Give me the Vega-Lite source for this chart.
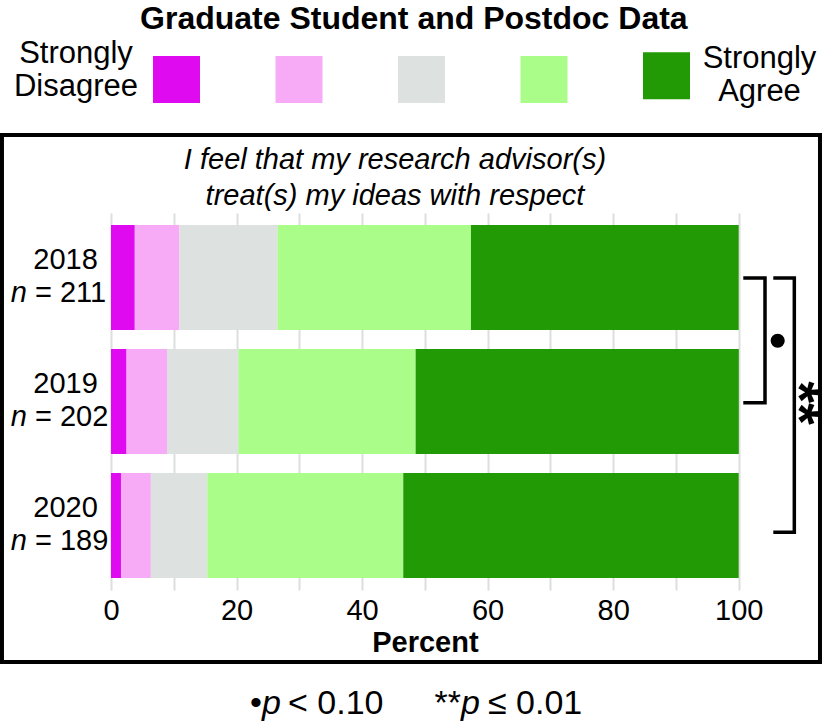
{
  "$schema": "https://vega.github.io/schema/vega-lite/v6.json",
  "width": 627.7,
  "height": 377,
  "autosize": {"type": "none"},
  "padding": {"left": 111, "top": 213, "right": 83.3, "bottom": 132},
  "background": "white",
  "config": {"view": {"stroke": null}, "font": "Liberation Sans"},
  "title": {
    "text": "Graduate Student and Postdoc Data",
    "fontSize": 32,
    "fontWeight": "bold",
    "font": "Liberation Sans",
    "color": "black",
    "anchor": "middle",
    "dx": -11,
    "offset": 16
  },
  "datasets": {
    "bars": [
      {"year": "2018", "response": "Strongly Disagree", "k": 1, "pct": 3.79},
      {"year": "2018", "response": "Disagree", "k": 2, "pct": 7.11},
      {"year": "2018", "response": "Neutral", "k": 3, "pct": 15.64},
      {"year": "2018", "response": "Agree", "k": 4, "pct": 30.81},
      {"year": "2018", "response": "Strongly Agree", "k": 5, "pct": 42.65},
      {"year": "2019", "response": "Strongly Disagree", "k": 1, "pct": 2.48},
      {"year": "2019", "response": "Disagree", "k": 2, "pct": 6.44},
      {"year": "2019", "response": "Neutral", "k": 3, "pct": 11.39},
      {"year": "2019", "response": "Agree", "k": 4, "pct": 28.22},
      {"year": "2019", "response": "Strongly Agree", "k": 5, "pct": 51.49},
      {"year": "2020", "response": "Strongly Disagree", "k": 1, "pct": 1.59},
      {"year": "2020", "response": "Disagree", "k": 2, "pct": 4.76},
      {"year": "2020", "response": "Neutral", "k": 3, "pct": 8.99},
      {"year": "2020", "response": "Agree", "k": 4, "pct": 31.22},
      {"year": "2020", "response": "Strongly Agree", "k": 5, "pct": 53.44}
    ],
    "years": [
      {"year": "2018", "nrest": "= 211"},
      {"year": "2019", "nrest": "= 202"},
      {"year": "2020", "nrest": "= 189"}
    ],
    "box": [{"x": -17.37, "x2": 112.95, "y": -0.149, "y2": 4.101}],
    "brackets": [
      {"b": "a", "k": 1, "x": 100.73, "y": 1.004},
      {"b": "a", "k": 2, "x": 104.19, "y": 1.004},
      {"b": "a", "k": 3, "x": 104.19, "y": 2.01},
      {"b": "a", "k": 4, "x": 100.73, "y": 2.01},
      {"b": "b", "k": 1, "x": 105.51, "y": 1.004},
      {"b": "b", "k": 2, "x": 108.86, "y": 1.004},
      {"b": "b", "k": 3, "x": 108.86, "y": 3.055},
      {"b": "b", "k": 4, "x": 105.51, "y": 3.055}
    ],
    "dot": [{"x": 106.21, "y": 1.51}],
    "stars": [{"x": 109.5, "y": 2.012, "t": "**"}],
    "subtitle": [
      {"x": 45.24, "y": 0.125, "t": "I feel that my research advisor(s)"},
      {"x": 45.24, "y": 0.415, "t": "treat(s) my ideas with respect"}
    ],
    "footRight": [
      {"x": 24.06, "y": 4.52, "t": "•"},
      {"x": 55.76, "y": 4.52, "t": "**"}
    ],
    "footItalic": [
      {"x": 24.06, "y": 4.52, "t": "p"},
      {"x": 55.76, "y": 4.52, "t": "p"}
    ],
    "footPlain": [
      {"x": 28.2, "y": 4.52, "t": "< 0.10"},
      {"x": 60.06, "y": 4.52, "t": "≤ 0.01"}
    ]
  },
  "layer": [
    {
      "layer": [
        {
          "data": {"name": "bars"},
          "mark": {"type": "bar"},
          "encoding": {
            "y": {"field": "year", "type": "nominal", "scale": {"paddingInner": 0.1532, "paddingOuter": 0.0968}, "axis": null},
            "x": {
              "field": "pct",
              "type": "quantitative",
              "stack": "zero",
              "scale": {"domain": [0, 100], "nice": false},
              "axis": {
                "title": "Percent",
                "values": [0, 10, 20, 30, 40, 50, 60, 70, 80, 90, 100],
                "labelExpr": "datum.value % 20 === 0 ? datum.label : ''",
                "grid": true,
                "gridColor": "#dcdfde",
                "gridWidth": 2,
                "ticks": false,
                "tickSize": 0,
                "domain": false,
                "labelFont": "Liberation Sans",
                "labelFontSize": 29,
                "labelColor": "black",
                "labelPadding": 6,
                "labelFlush": false,
                "labelOverlap": false,
                "titleFont": "Liberation Sans",
                "titleFontSize": 29,
                "titleFontWeight": "bold",
                "titleColor": "black",
                "titlePadding": 3
              }
            },
            "color": {
              "field": "response",
              "type": "nominal",
              "scale": {
                "domain": ["Strongly Disagree", "Disagree", "Neutral", "Agree", "Strongly Agree"],
                "range": ["#e00af0", "#f7abf7", "#dde1df", "#a9fd88", "#229a05"]
              },
              "legend": {
                "orient": "none",
                "legendX": -97,
                "legendY": -161,
                "direction": "horizontal",
                "padding": 0,
                "title": ["Strongly", "Disagree"],
                "titleOrient": "left",
                "titleAnchor": "middle",
                "titleBaseline": "alphabetic",
                "titleAlign": "center",
                "titleFont": "Liberation Sans",
                "titleFontSize": 31,
                "titleFontWeight": "normal",
                "titleColor": "black",
                "titleLineHeight": 33,
                "titlePadding": -48,
                "titleLimit": 400,
                "symbolType": "square",
                "symbolSize": 2209,
                "symbolStrokeWidth": 0,
                "symbolOpacity": 1,
                "labelExpr": "datum.label == 'Strongly Agree' ? ['Strongly', 'Agree'] : ''",
                "labelFont": "Liberation Sans",
                "labelFontSize": 31,
                "labelColor": "black",
                "labelAlign": "center",
                "labelBaseline": "line-bottom",
                "labelOffset": 69.5,
                "labelLineHeight": 33,
                "labelLimit": 400,
                "columnPadding": 5.5
              }
            },
            "order": {"field": "k", "type": "quantitative"}
          }
        },
        {
          "data": {"name": "years"},
          "mark": {"type": "text", "align": "center", "baseline": "alphabetic", "dx": -45.5, "dy": -8.5, "fontSize": 29, "font": "Liberation Sans", "color": "black"},
          "encoding": {
            "y": {"field": "year", "type": "nominal", "scale": {"paddingInner": 0.1532, "paddingOuter": 0.0968}, "axis": null},
            "x": {"datum": 0, "type": "quantitative", "scale": {"domain": [0, 100], "nice": false}},
            "text": {"field": "year"}
          }
        },
        {
          "data": {"name": "years"},
          "mark": {"type": "text", "align": "right", "baseline": "alphabetic", "dx": -84, "dy": 24.5, "fontSize": 29, "fontStyle": "italic", "font": "Liberation Sans", "color": "black"},
          "encoding": {
            "y": {"field": "year", "type": "nominal", "scale": {"paddingInner": 0.1532, "paddingOuter": 0.0968}, "axis": null},
            "x": {"datum": 0, "type": "quantitative", "scale": {"domain": [0, 100], "nice": false}},
            "text": {"value": "n"}
          }
        },
        {
          "data": {"name": "years"},
          "mark": {"type": "text", "align": "left", "baseline": "alphabetic", "dx": -76, "dy": 24.5, "fontSize": 29, "font": "Liberation Sans", "color": "black"},
          "encoding": {
            "y": {"field": "year", "type": "nominal", "scale": {"paddingInner": 0.1532, "paddingOuter": 0.0968}, "axis": null},
            "x": {"datum": 0, "type": "quantitative", "scale": {"domain": [0, 100], "nice": false}},
            "text": {"field": "nrest"}
          }
        }
      ]
    },
    {
      "layer": [
        {
          "data": {"name": "box"},
          "mark": {"type": "rect", "fill": "white", "fillOpacity": 0, "stroke": "black", "strokeWidth": 4},
          "encoding": {
            "x": {"field": "x", "type": "quantitative", "scale": {"domain": [0, 100], "nice": false}},
            "x2": {"field": "x2"},
            "y": {"field": "y", "type": "quantitative", "scale": {"domain": [0.48, 3.52], "reverse": true, "nice": false, "zero": false}, "axis": null},
            "y2": {"field": "y2"}
          }
        },
        {
          "data": {"name": "brackets"},
          "mark": {"type": "line", "color": "black", "strokeWidth": 3.5, "strokeJoin": "miter", "strokeCap": "butt"},
          "encoding": {
            "x": {"field": "x", "type": "quantitative", "scale": {"domain": [0, 100], "nice": false}},
            "y": {"field": "y", "type": "quantitative", "scale": {"domain": [0.48, 3.52], "reverse": true, "nice": false, "zero": false}, "axis": null},
            "detail": {"field": "b", "type": "nominal"},
            "order": {"field": "k", "type": "quantitative"}
          }
        },
        {
          "data": {"name": "dot"},
          "mark": {"type": "point", "shape": "circle", "filled": true, "color": "black", "opacity": 1, "size": 200},
          "encoding": {
            "x": {"field": "x", "type": "quantitative", "scale": {"domain": [0, 100], "nice": false}},
            "y": {"field": "y", "type": "quantitative", "scale": {"domain": [0.48, 3.52], "reverse": true, "nice": false, "zero": false}, "axis": null}
          }
        },
        {
          "data": {"name": "stars"},
          "mark": {"type": "text", "angle": 90, "align": "center", "baseline": "middle", "fontSize": 56, "fontWeight": "bold", "font": "Liberation Sans", "color": "black"},
          "encoding": {
            "x": {"field": "x", "type": "quantitative", "scale": {"domain": [0, 100], "nice": false}},
            "y": {"field": "y", "type": "quantitative", "scale": {"domain": [0.48, 3.52], "reverse": true, "nice": false, "zero": false}, "axis": null},
            "text": {"field": "t"}
          }
        },
        {
          "data": {"name": "subtitle"},
          "mark": {"type": "text", "align": "center", "baseline": "alphabetic", "fontSize": 29, "fontStyle": "italic", "font": "Liberation Sans", "color": "black"},
          "encoding": {
            "x": {"field": "x", "type": "quantitative", "scale": {"domain": [0, 100], "nice": false}},
            "y": {"field": "y", "type": "quantitative", "scale": {"domain": [0.48, 3.52], "reverse": true, "nice": false, "zero": false}, "axis": null},
            "text": {"field": "t"}
          }
        },
        {
          "data": {"name": "footRight"},
          "mark": {"type": "text", "align": "right", "baseline": "alphabetic", "fontSize": 34, "font": "Liberation Sans", "color": "black"},
          "encoding": {
            "x": {"field": "x", "type": "quantitative", "scale": {"domain": [0, 100], "nice": false}},
            "y": {"field": "y", "type": "quantitative", "scale": {"domain": [0.48, 3.52], "reverse": true, "nice": false, "zero": false}, "axis": null},
            "text": {"field": "t"}
          }
        },
        {
          "data": {"name": "footItalic"},
          "mark": {"type": "text", "align": "left", "baseline": "alphabetic", "fontSize": 34, "fontStyle": "italic", "font": "Liberation Sans", "color": "black"},
          "encoding": {
            "x": {"field": "x", "type": "quantitative", "scale": {"domain": [0, 100], "nice": false}},
            "y": {"field": "y", "type": "quantitative", "scale": {"domain": [0.48, 3.52], "reverse": true, "nice": false, "zero": false}, "axis": null},
            "text": {"field": "t"}
          }
        },
        {
          "data": {"name": "footPlain"},
          "mark": {"type": "text", "align": "left", "baseline": "alphabetic", "fontSize": 34, "font": "Liberation Sans", "color": "black"},
          "encoding": {
            "x": {"field": "x", "type": "quantitative", "scale": {"domain": [0, 100], "nice": false}},
            "y": {"field": "y", "type": "quantitative", "scale": {"domain": [0.48, 3.52], "reverse": true, "nice": false, "zero": false}, "axis": null},
            "text": {"field": "t"}
          }
        }
      ]
    }
  ],
  "resolve": {"scale": {"y": "independent"}}
}
